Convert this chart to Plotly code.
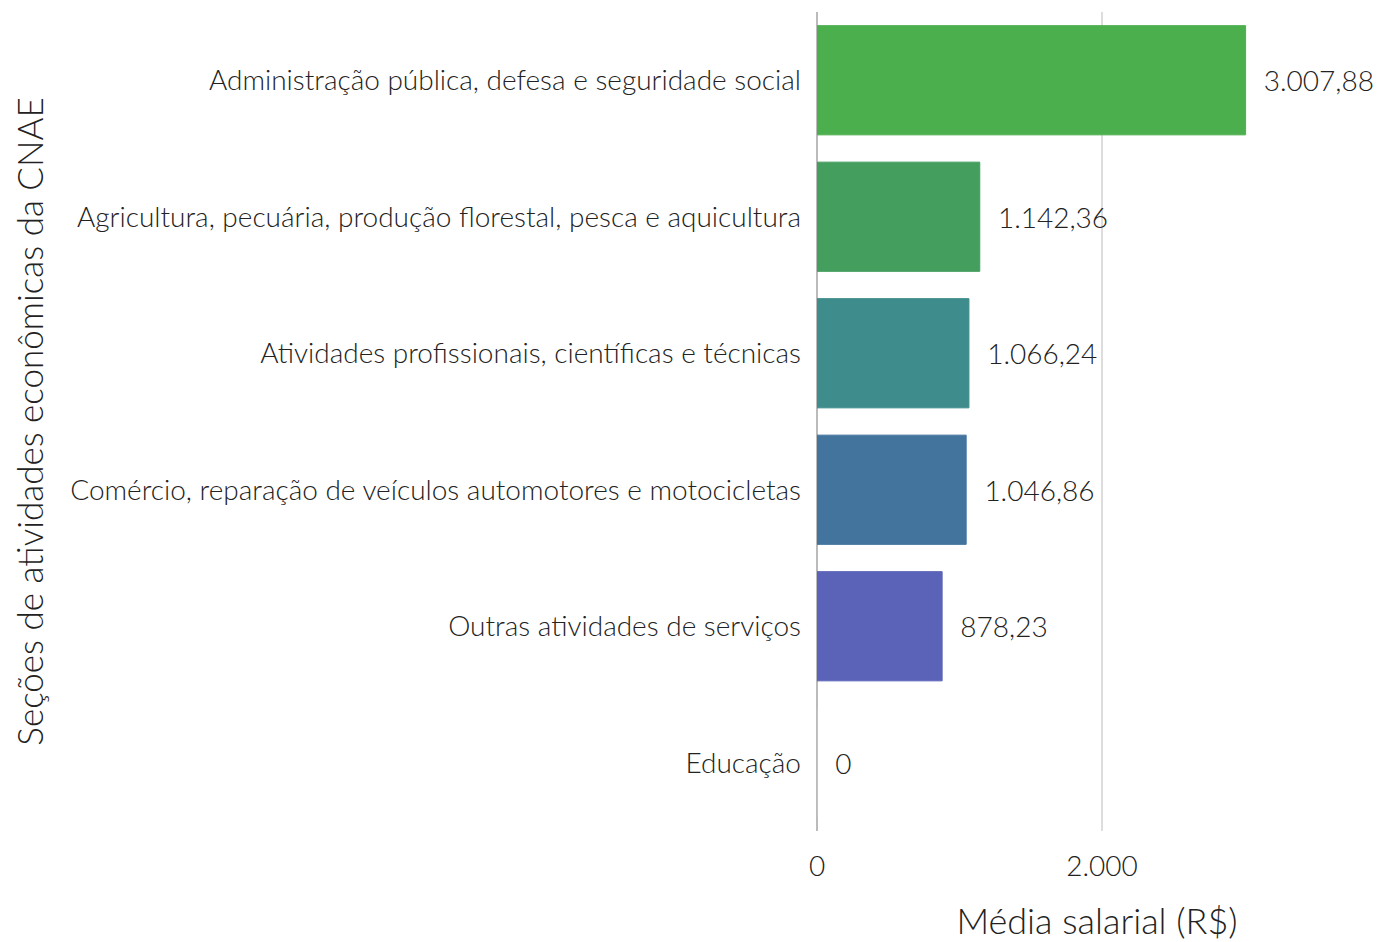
import plotly.graph_objects as go

categories = [
    "Educação",
    "Outras atividades de serviços",
    "Comércio, reparação de veículos automotores e motocicletas",
    "Atividades profissionais, científicas e técnicas",
    "Agricultura, pecuária, produção florestal, pesca e aquicultura",
    "Administração pública, defesa e seguridade social",
]
values = [0, 878.23, 1046.86, 1066.24, 1142.36, 3007.88]
value_labels = ["0", "878,23", "1.046,86", "1.066,24", "1.142,36", "3.007,88"]
colors = ["#C6BEE6", "#5B63B8", "#42749E", "#3E8C8C", "#449E5E", "#4CAF4E"]
tick_vals = [0, 2000]
tick_text = ["0", "2.000"]

FONT = "Lato"
W = 300
TXT = "#222222"

fig = go.Figure(
    go.Bar(
        x=values,
        y=categories,
        orientation="h",
        marker=dict(color=colors, line=dict(color=colors, width=1)),
        text=["  " + t for t in value_labels],
        textposition="outside",
        textfont=dict(family=FONT, size=28, color=TXT, weight=W),
        cliponaxis=False,
        hoverinfo="skip",
    )
)

fig.update_layout(
    width=1380,
    height=934,
    margin=dict(l=809, r=11, t=4, b=111),
    paper_bgcolor="white",
    plot_bgcolor="white",
    bargap=0.2,
    showlegend=False,
    font=dict(family=FONT, size=28, color=TXT, weight=W),
    xaxis=dict(
        range=[0, 3930],
        tickvals=tick_vals,
        ticktext=tick_text,
        showgrid=True,
        gridcolor="#DDDDDD",
        gridwidth=2,
        zeroline=True,
        zerolinecolor="#BBBBBB",
        zerolinewidth=2,
        showline=False,
        ticks="",
        ticklabelstandoff=16,
        tickfont=dict(family=FONT, size=28, color=TXT, weight=W),
        title=dict(text="Média salarial (R$)", font=dict(family=FONT, size=36, color=TXT, weight=W), standoff=41),
        automargin=False,
    ),
    yaxis=dict(
        categoryorder="array",
        categoryarray=categories,
        showgrid=False,
        zeroline=False,
        showline=False,
        ticks="",
        ticklabelstandoff=15,
        tickfont=dict(family=FONT, size=28, color=TXT, weight=W),
        title=dict(text="Seções de atividades econômicas da CNAE", font=dict(family=FONT, size=35, color=TXT, weight=W), standoff=20),
        automargin=False,
    ),
)

fig.write_html("out.html")
